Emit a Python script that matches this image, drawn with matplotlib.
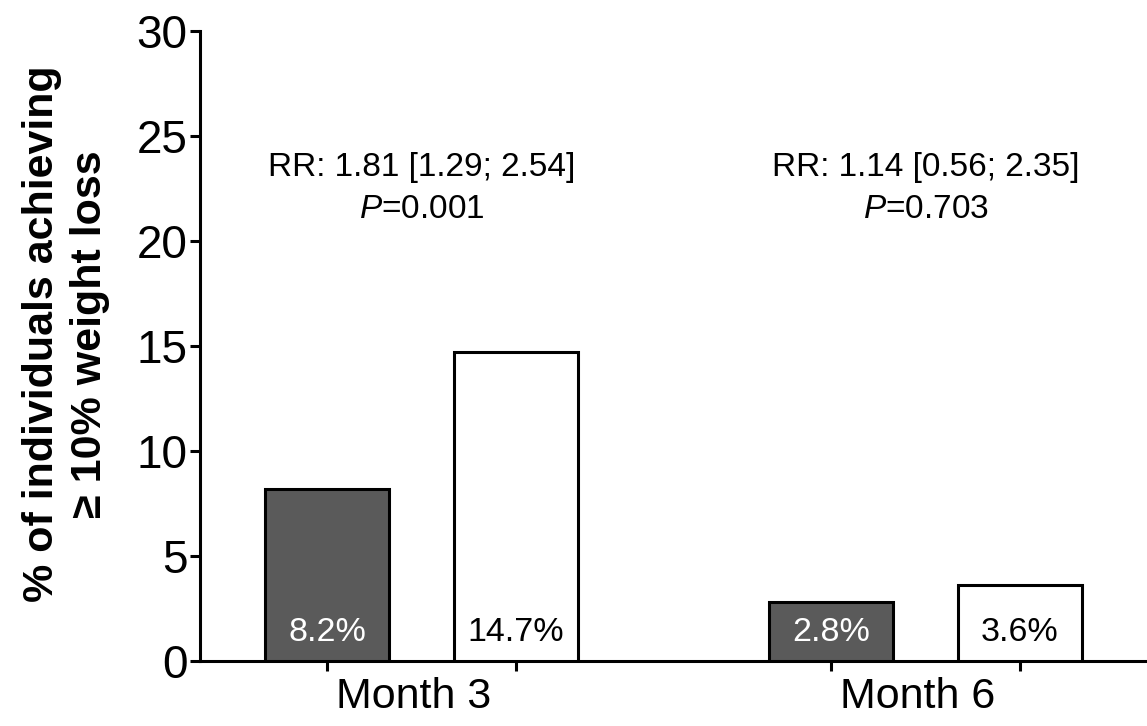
import numpy as np
import matplotlib.pyplot as plt

plt.rcParams['font.family'] = ['Liberation Sans', 'DejaVu Sans']
plt.rcParams['mathtext.fontset'] = 'custom'
plt.rcParams['mathtext.rm'] = 'Liberation Sans'
plt.rcParams['mathtext.it'] = 'Liberation Sans:italic'

# Data
groups = ['Month 3', 'Month 6']
dark_vals = [8.2, 2.8]
white_vals = [14.7, 3.6]
dark_labels = ['8.2%', '2.8%']
white_labels = ['14.7%', '3.6%']
rr_text = ['RR: 1.81 [1.29; 2.54]', 'RR: 1.14 [0.56; 2.35]']
p_text = ['0.001', '0.703']

x = np.arange(len(groups))
off = 0.1875
width = 0.246
dark = '#5a5a5a'
lw = 2.2

fig = plt.figure(figsize=(11.47, 7.26), dpi=100)
ax = fig.add_axes([200 / 1147, 1 - 661 / 726, 1 - 200 / 1147, (661 - 31) / 726])

ax.bar(x - off, dark_vals, width, color=dark, edgecolor='black', linewidth=lw, zorder=3)
ax.bar(x + off, white_vals, width, color='white', edgecolor='black', linewidth=lw, zorder=3)

for i in range(len(groups)):
    ax.text(x[i] - off, 1.35, dark_labels[i], color='white', fontsize=24.5,
            ha='center', va='center', zorder=4)
    ax.text(x[i] + off, 1.35, white_labels[i], color='black', fontsize=24.5,
            ha='center', va='center', zorder=4)
    ax.text(x[i], 23.5, rr_text[i], fontsize=24, ha='center', va='center')
    ax.text(x[i], 21.5, r'$\it{P}$=' + p_text[i], fontsize=24,
            ha='center', va='center')

ax.set_xlim(-0.4395, 1.4395)
ax.set_ylim(0, 30)
ax.set_yticks([0, 5, 10, 15, 20, 25, 30])
ax.tick_params(axis='y', labelsize=33, length=7, width=lw, pad=2)

# ticks under each bar, labels at group centers
ax.set_xticks(np.concatenate([x - off, x + off]))
ax.set_xticklabels([])
ax.tick_params(axis='x', which='major', length=7, width=lw)
ax.set_xticks(x - 0.015, minor=True)
ax.set_xticklabels(groups, minor=True)
ax.tick_params(axis='x', which='minor', length=0, labelsize=31, pad=11.5)

for s in ['top', 'right']:
    ax.spines[s].set_visible(False)
for s in ['left', 'bottom']:
    ax.spines[s].set_linewidth(lw)

fig.text(66 / 1147, 1 - 334 / 726,
         '% of individuals achieving\n\u2265 10% weight loss',
         rotation=90, ha='center', va='center', multialignment='center',
         fontsize=31, fontweight='bold', linespacing=1.25)

fig.savefig('out.png', dpi=100)
